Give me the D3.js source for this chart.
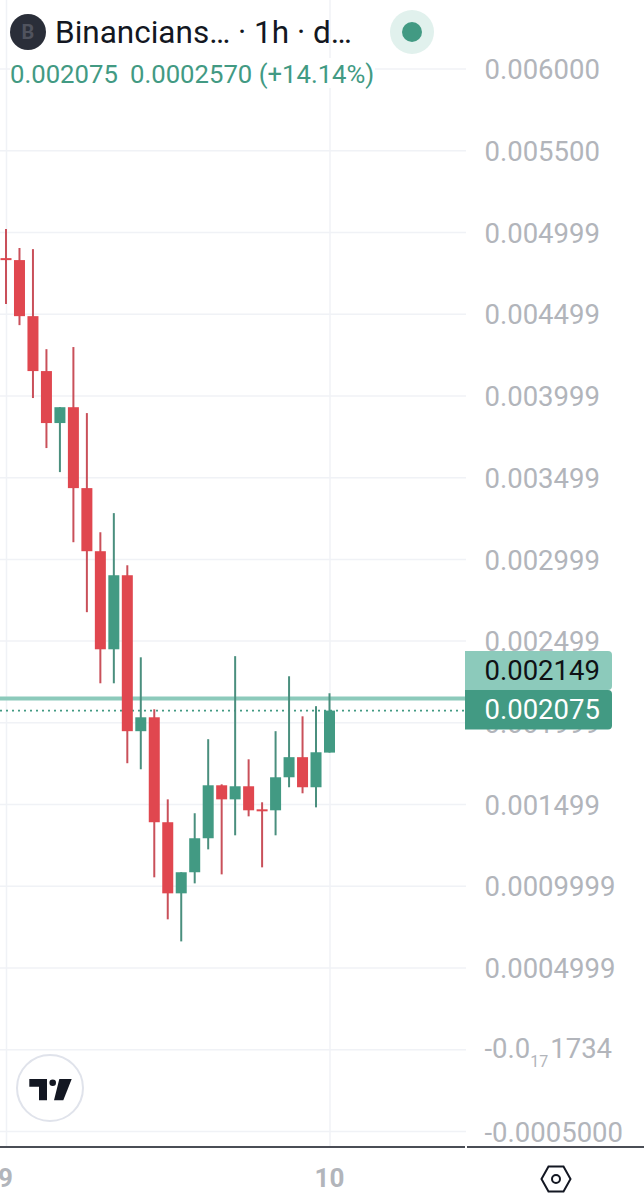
<!DOCTYPE html>
<html><head><meta charset="utf-8">
<script src="https://cdn.jsdelivr.net/npm/d3@7/dist/d3.min.js"></script>
<style>html,body{margin:0;padding:0;background:#fff}svg{display:block}text{font-family:Roboto,sans-serif}</style>
</head><body><svg id="c" width="644" height="1200"></svg>
<script>
const opens =[.004843,.004831,.004488,.004152,.003834,.003931,.003436,.003050,.002450,.002903,.001949,.002034,.001392,.000957,.001086,.001294,.001618,.001532,.001612,.001471,.001465,.001667,.001790,.001606,.001818];
const closes=[.004837,.004488,.004152,.003834,.003931,.003436,.003050,.002450,.002903,.001949,.002034,.001392,.000957,.001086,.001294,.001618,.001532,.001612,.001465,.001465,.001667,.001790,.001606,.001820,.002075];
const highs =[.005021,.004905,.004898,.004286,.003931,.004299,.003895,.003166,.003283,.002964,.002401,.002083,.001532,.001086,.001447,.001900,.001624,.002408,.001777,.001514,.001949,.002285,.002040,.002102,.002181];
const lows  =[.004562,.004433,.003987,.003681,.003534,.003105,.002677,.002242,.002242,.001753,.001716,.001055,.000798,.000663,.001018,.001226,.001073,.001312,.001428,.001116,.001312,.001606,.001569,.001483,.001818];
const tickValues=[.006,.0055,.005,.0045,.004,.0035,.003,.0025,.002,.0015,.001,.0005,0,-.0005];
const tickLabels=["0.006000","0.005500","0.004999","0.004499","0.003999","0.003499","0.002999","0.002499","0.001999","0.001499","0.0009999","0.0004999","-0.0|17|1734","-0.0005000"];
const timeIndex=[0,24];
const timeLabels=["9","10"];
const lastPrice=.002075, otherPrice=.002149;
const GREEN="#429a83",RED="#e0474f",LINE="#8ccabb",GREY="#b2b5bb",GRID="#f0f2f6";

const svg=d3.select("#c");
const x=d3.scalePoint().domain(d3.range(opens.length)).range([6,329.5]);
const y=d3.scaleLinear().domain([-.0005,.006]).range([1131.5,69]);

// grid
const g=svg.append("g");
g.selectAll("line.h").data(tickValues).join(e=>e.append("line").attr("class","h")).attr("x1",0).attr("x2",466)
 .attr("y1",d=>y(d)).attr("y2",d=>y(d)).attr("stroke",GRID).attr("stroke-width",1.5);
g.selectAll("line.v").data(timeIndex).join(e=>e.append("line").attr("class","v")).attr("y1",0).attr("y2",1147)
 .attr("x1",d=>x(d)+.5).attr("x2",d=>x(d)+.5).attr("stroke",GRID).attr("stroke-width",1.5);

// price lines
svg.append("line").attr("x1",0).attr("x2",466).attr("y1",y(otherPrice)).attr("y2",y(otherPrice)).attr("stroke",LINE).attr("stroke-width",4);
svg.append("line").attr("x1",0).attr("x2",466).attr("y1",y(lastPrice)).attr("y2",y(lastPrice)).attr("stroke",GREEN).attr("stroke-width",1.6).attr("stroke-dasharray","2 4");

// candles
const c=svg.append("g").selectAll("g").data(opens.map((o,i)=>({i,o,c:closes[i],h:highs[i],l:lows[i]}))).join("g");
const col=d=>d.c>=d.o?GREEN:RED;
c.append("line").attr("x1",d=>x(d.i)).attr("x2",d=>x(d.i)).attr("y1",d=>y(d.h)).attr("y2",d=>y(d.l))
 .attr("stroke",d=>d.c>=d.o?"#4a8f7e":"#c9505a").attr("stroke-width",2);
c.append("rect").attr("x",d=>x(d.i)-5.5).attr("width",11)
 .attr("y",d=>y(Math.max(d.o,d.c)))
 .attr("height",d=>Math.max(2,Math.abs(y(d.o)-y(d.c)))).attr("fill",col);

// right axis
const axis=svg.append("g").attr("transform","translate(484.5,0)")
 .call(d3.axisRight(y).tickValues(tickValues).tickSize(0).tickPadding(0).tickFormat((d,i)=>tickLabels[i]));
axis.select(".domain").remove();
axis.selectAll("text").attr("x",0).attr("dy",".35em").attr("text-anchor","start").attr("fill",GREY)
 .style("font-size","27.5px").style("font-family","Roboto,sans-serif")
 .each(function(d,i){
   const parts=tickLabels[i].split("|");
   if(parts.length===3){
     const t=d3.select(this).text(null).attr("dy",null).attr("y",7.5);
     t.append("tspan").text(parts[0]);
     t.append("tspan").text(parts[1]).style("font-size","16px").attr("dy",9);
     t.append("tspan").text(parts[2]).attr("dy",-9).attr("dx",2);
   }
 });

// bottom axis
const bottom=svg.append("g");
bottom.append("line").attr("x1",0).attr("x2",465).attr("y1",1147).attr("y2",1147).attr("stroke","#4a4d55").attr("stroke-width",2);
bottom.append("line").attr("x1",467).attr("x2",644).attr("y1",1147).attr("y2",1147).attr("stroke","#4a4d55").attr("stroke-width",2);
bottom.selectAll("text").data(timeIndex).join("text")
 .attr("x",d=>d===0?x(d)-8:x(d)).attr("y",1187).attr("text-anchor",d=>d===0?"start":"middle")
 .attr("fill",GREY).style("font-size","26px").style("font-weight",700).text((d,i)=>timeLabels[i]);

// price tags
function tag(yTop,h,fill,tc,txt){
 const w=147,r=4,x0=465;
 svg.append("path").attr("d",`M${x0},${yTop}H${x0+w-r}Q${x0+w},${yTop} ${x0+w},${yTop+r}V${yTop+h-r}Q${x0+w},${yTop+h} ${x0+w-r},${yTop+h}H${x0}Z`).attr("fill",fill);
 svg.append("text").attr("x",484.5).attr("y",yTop+h/2+9.5).attr("fill",tc).style("font-size","27.5px").text(txt);
}
tag(651,39,LINE,"#0f1115",d3.format(".6f")(otherPrice));
tag(690,39.5,GREEN,"#ffffff",d3.format(".6f")(lastPrice));

// header
svg.append("rect").attr("x",10).attr("y",58).attr("width",365).attr("height",30).attr("fill","#fff");
svg.append("circle").attr("cx",28).attr("cy",32).attr("r",18).attr("fill","#2a2e39");
svg.append("text").attr("x",28).attr("y",39).attr("text-anchor","middle").attr("fill","#50535e").style("font-size","20px").style("font-weight",700).text("B");
svg.append("text").attr("x",55).attr("y",42.5).attr("fill","#131722").style("font-size","31.5px").text("Binancians… · 1h · d…");
svg.append("circle").attr("cx",412).attr("cy",32).attr("r",22).attr("fill","#e1f1ed");
svg.append("circle").attr("cx",412).attr("cy",32).attr("r",10).attr("fill",GREEN);
svg.append("text").attr("x",10).attr("y",83).attr("fill",GREEN).style("font-size","25.7px").text("0.002075");
svg.append("text").attr("x",130).attr("y",83).attr("fill",GREEN).style("font-size","25.7px").text("0.0002570 (+14.14%)");

// TV logo
svg.append("circle").attr("cx",50).attr("cy",1088).attr("r",33).attr("fill","#fff").attr("stroke","#e0e3eb").attr("stroke-width",2);
const logo=svg.append("g").attr("fill","#131722");
logo.append("path").attr("d","M29.3,1079H47V1100.3H39V1086.7H29.3Z");
logo.append("circle").attr("cx",52.7).attr("cy",1082.7).attr("r",3.3);
logo.append("path").attr("d","M59.3,1079H71.7L63.3,1100.3H54Z");

// hexagon settings icon
const hx=556,hy=1179;
svg.append("path").attr("d",`M${hx-14.5},${hy}L${hx-7.5},${hy-12.5}H${hx+7.5}L${hx+14.5},${hy}L${hx+7.5},${hy+12.5}H${hx-7.5}Z`)
 .attr("fill","none").attr("stroke","#131722").attr("stroke-width",2);
svg.append("circle").attr("cx",hx).attr("cy",hy).attr("r",4).attr("fill","none").attr("stroke","#131722").attr("stroke-width",2);
</script></body></html>
